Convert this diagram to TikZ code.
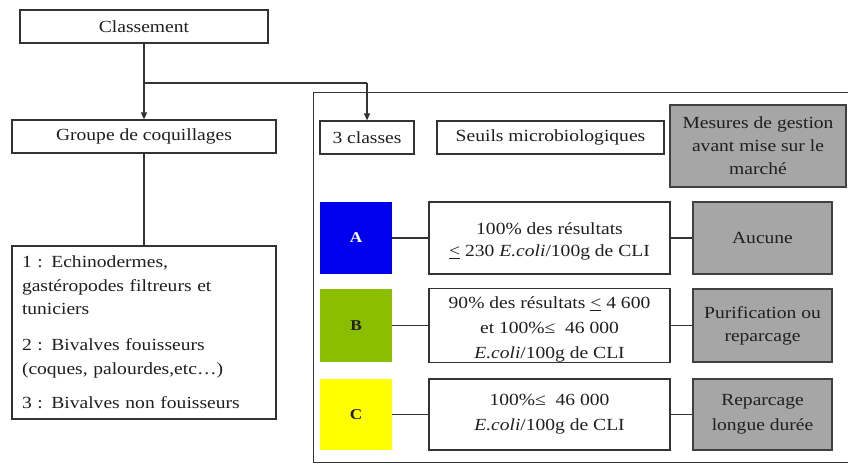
\documentclass[tikz,border=0pt]{standalone}
\usepackage{fontspec}
\setmainfont[FakeStretch=1.15]{Liberation Serif}
\usetikzlibrary{arrows.meta}
\definecolor{clsA}{HTML}{0000EE}
\definecolor{clsB}{HTML}{8CBE00}
\definecolor{clsC}{HTML}{FFFF00}
\definecolor{grayfill}{HTML}{A6A6A6}
\definecolor{linec}{HTML}{333333}
\begin{document}
\begin{tikzpicture}[x=1pt,y=-1pt,
  every node/.style={font=\fontsize{17}{23}\selectfont, inner sep=0pt, text=black!88},
  wbox/.style={draw=linec, line width=1.2pt, fill=white, align=center},
  gbox/.style={draw=black!75, line width=1.5pt, fill=grayfill, align=center},
  cbox/.style={minimum width=72pt, font=\fontsize{15}{18}\selectfont\bfseries},
  link/.style={draw=linec, line width=1.2pt},
  arr/.style={link, -{Triangle[length=7pt,width=6pt]}}
]
\useasboundingbox (0,0) rectangle (848,463);
% frame
\draw[linec, line width=1pt] (848,92) -- (313,92) -- (313,462) -- (848,462);

% left column
\node[wbox, minimum width=248pt, minimum height=33pt] (cls) at (144,26.5) {Classement};
\node[wbox, minimum width=264pt, minimum height=33pt] (grp) at (144,136.5) {Groupe de coquillages};
\node[wbox, minimum height=173pt, inner xsep=10pt, text width=244pt, align=left,
      font=\fontsize{17}{23.5}\selectfont] (lst) at (144,332.5)
  {1 : Echinodermes,\\ gastéropodes filtreurs et\\ tuniciers\\[12.5pt] 2 : Bivalves fouisseurs\\ (coques, palourdes,etc…)\\[11pt] 3 : Bivalves non fouisseurs};

% header row
\node[wbox, minimum width=94pt, minimum height=33pt] (cl3) at (367,137.5) {3 classes};
\node[wbox, minimum width=227pt, minimum height=33pt] (seu) at (550.5,137.5) {Seuils microbiologiques};
\node[gbox, minimum width=176pt, minimum height=82pt, font=\fontsize{17}{23}\selectfont] (mes) at (758,146)
  {Mesures de gestion\\ avant mise sur le\\ marché};

% class A
\node[cbox, fill=clsA, minimum height=72pt, text=white] (A) at (356,238) {A};
\node[wbox, minimum width=241pt, minimum height=72pt, font=\fontsize{17}{22}\selectfont] (tA) at (549.5,238)
  {\rule{0pt}{19pt}100\% des résultats\\ \underline{<} 230 \textit{E.coli}/100g de CLI};
\node[gbox, minimum width=139pt, minimum height=72pt] (gA) at (762.5,238) {Aucune};

% class B
\node[cbox, fill=clsB, minimum height=73pt] (B) at (356,325.5) {B};
\node[wbox, minimum width=241pt, minimum height=73pt, font=\fontsize{17}{25}\selectfont] (tB) at (549.5,325.5)
  {\rule{0pt}{20pt}90\% des résultats \underline{<} 4 600\\ et 100\%≤\ \ 46 000\\ \textit{E.coli}/100g de CLI};
\node[gbox, minimum width=139pt, minimum height=73pt] (gB) at (762.5,325.5) {Purification ou\\ reparcage};

% class C
\node[cbox, fill=clsC, minimum height=71pt] (C) at (356,414.5) {C};
\node[wbox, minimum width=241pt, minimum height=71pt, font=\fontsize{17}{25}\selectfont] (tC) at (549.5,414.5)
  {100\%≤\ \ 46 000\\ \textit{E.coli}/100g de CLI};
\node[gbox, minimum width=139pt, minimum height=71pt, font=\fontsize{17}{25}\selectfont] (gC) at (762.5,414.5) {Reparcage\\ longue durée};

% connectors
\coordinate (br) at (144,83);
\coordinate (br2) at (367,83);
\draw[arr] (cls.south) -- (grp.north);
\draw[link] (br) -- (br2);
\draw[arr] (br2) -- (cl3.north);
\draw[link] (grp.south) -- (lst.north);
\draw[link] (A) -- (tA);
\draw[link] (tA) -- (gA);
\draw[link] (B) -- (tB);
\draw[link] (tB) -- (gB);
\draw[link] (C) -- (tC);
\draw[link] (tC) -- (gC);
\end{tikzpicture}
\end{document}
